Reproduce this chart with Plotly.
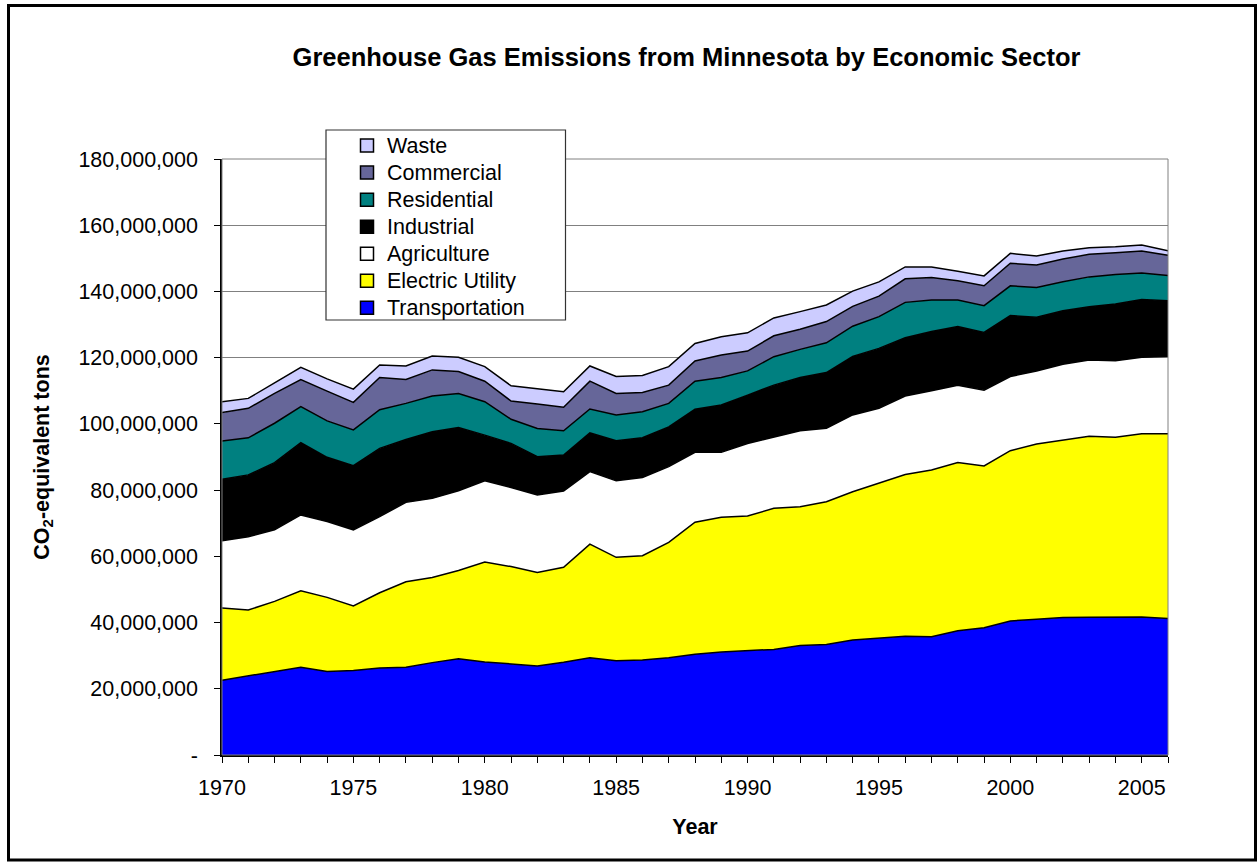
import plotly.graph_objects as go

years = list(range(1970, 2007))

# Sector emissions, million tons CO2-equivalent
transportation = [22.6, 23.9, 25.2, 26.5, 25.2, 25.5, 26.3, 26.5, 27.9, 29.1, 28.1, 27.6, 26.9,
                  28.0, 29.4, 28.5, 28.7, 29.4, 30.4, 31.1, 31.4, 31.9, 33.1, 33.4, 34.7, 35.2,
                  35.9, 35.7, 37.5, 38.4, 40.5, 41.0, 41.5, 41.6, 41.7, 41.7, 41.2]
electric_utility = [21.8, 19.9, 21.2, 23.1, 22.4, 19.5, 22.7, 25.8, 25.7, 26.6, 30.2, 29.3, 28.2,
                    28.7, 34.3, 31.2, 31.5, 34.8, 39.9, 40.7, 40.8, 42.6, 41.9, 43.1, 44.8, 46.8,
                    48.8, 50.4, 50.8, 48.9, 51.4, 52.9, 53.5, 54.7, 54.3, 55.3, 55.8]
agriculture = [20.3, 22.1, 21.6, 22.9, 22.9, 23.0, 23.0, 24.0, 23.9, 24.1, 24.5, 23.9, 23.4,
               23.0, 21.9, 23.1, 23.6, 22.9, 21.1, 19.6, 21.9, 21.6, 22.9, 22.2, 23.2, 22.7,
               23.7, 23.9, 23.4, 22.9, 22.4, 22.1, 23.0, 23.0, 23.1, 23.1, 23.3]
industrial = [18.6, 18.7, 20.3, 21.8, 19.4, 19.4, 20.6, 19.0, 20.1, 19.1, 13.8, 13.3, 11.6,
              10.9, 11.7, 12.1, 12.0, 12.0, 13.0, 14.3, 14.6, 15.6, 16.1, 16.8, 17.7, 18.1,
              17.6, 17.9, 17.7, 17.4, 18.4, 16.2, 16.2, 16.1, 17.1, 17.5, 16.9]
residential = [11.5, 11.2, 11.9, 10.9, 11.0, 10.8, 11.7, 10.9, 10.8, 10.3, 10.1, 7.3, 8.5,
               7.3, 7.2, 7.8, 7.9, 7.1, 8.5, 8.3, 7.3, 8.6, 8.5, 9.0, 9.1, 9.6,
               10.7, 9.5, 8.0, 8.1, 9.0, 9.0, 8.7, 9.0, 8.9, 8.0, 7.6]
commercial = [8.6, 8.9, 9.0, 8.2, 9.0, 8.3, 9.7, 7.2, 7.9, 6.6, 6.2, 5.5, 7.4,
              7.1, 8.4, 6.5, 5.8, 5.5, 6.1, 6.8, 6.0, 6.3, 6.1, 6.4, 6.0, 6.2,
              7.1, 6.8, 5.8, 6.0, 6.8, 6.8, 6.9, 6.8, 6.6, 6.6, 6.1]
waste = [3.3, 3.0, 3.2, 3.7, 3.7, 4.0, 3.8, 4.1, 4.2, 4.3, 4.4, 4.6, 4.6,
         4.7, 4.6, 5.1, 5.1, 5.6, 5.3, 5.5, 5.5, 5.4, 5.3, 5.0, 4.6, 4.3,
         3.6, 3.2, 2.9, 3.0, 3.0, 2.7, 2.4, 2.0, 1.8, 1.8, 1.4]

sector_names = ["Transportation", "Electric Utility", "Agriculture", "Industrial",
                "Residential", "Commercial", "Waste"]
sector_values = [transportation, electric_utility, agriculture, industrial,
                 residential, commercial, waste]
sector_colors = ["#0000FF", "#FFFF00", "#FFFFFF", "#000000", "#008080", "#666699", "#CCCCFF"]

y_tick_vals = [0, 20e6, 40e6, 60e6, 80e6, 100e6, 120e6, 140e6, 160e6, 180e6]
y_tick_text = ["-", "20,000,000", "40,000,000", "60,000,000", "80,000,000", "100,000,000",
               "120,000,000", "140,000,000", "160,000,000", "180,000,000"]
x_label_years = [1970, 1975, 1980, 1985, 1990, 1995, 2000, 2005]
x_tick_text = ["1970", "1975", "1980", "1985", "1990", "1995", "2000", "2005"]

FONT = "Liberation Sans, Arial, sans-serif"
TXT = 21.5

fig = go.Figure()
# stacked areas
for name, vals, col in zip(sector_names, sector_values, sector_colors):
    fig.add_trace(go.Scatter(
        x=years, y=[v * 1e6 for v in vals], name=name, mode="lines",
        stackgroup="one", line=dict(color="black", width=1.5),
        fillcolor=col, showlegend=False,
    ))
# legend entries with square swatches (Excel style)
for name, col in zip(sector_names, sector_colors):
    fig.add_trace(go.Scatter(
        x=[None], y=[None], mode="markers", showlegend=True,
        name=f'<span style="font-size:{TXT}px">{name}</span>',
        marker=dict(symbol="square", size=13, color=col, line=dict(color="black", width=1.5)),
    ))

W, H = 1259, 863
L, R, T, B = 222, 1168, 159, 755
pw, ph = R - L, B - T


def px(x):
    return (x - L) / pw


def py(y):
    return (B - y) / ph


fig.update_layout(
    width=W, height=H,
    margin=dict(l=L, r=W - R, t=T, b=H - B),
    paper_bgcolor="white", plot_bgcolor="white",
    font=dict(family=FONT, size=TXT, color="black"),
    title=dict(text="<b>Greenhouse Gas Emissions from Minnesota by Economic Sector</b>",
               x=px(686.5), xref="paper", xanchor="center",
               y=1 - 57 / H, yref="container", yanchor="middle",
               font=dict(family=FONT, size=25.5, color="black")),
    showlegend=True,
    legend=dict(traceorder="reversed", x=px(347), y=py(127), xanchor="left", yanchor="top",
                bgcolor="rgba(0,0,0,0)", borderwidth=0,
                font=dict(family=FONT, size=18.5, color="black"),
                itemwidth=30, tracegroupgap=0),
    xaxis=dict(range=[1970, 2006], tickvals=x_label_years, ticktext=x_tick_text,
               ticks="outside", ticklen=6, tickcolor="black", tickwidth=1,
               minor=dict(tickvals=years, ticks="outside", ticklen=6,
                          tickcolor="black", tickwidth=1, showgrid=False),
               showline=True, linecolor="black", linewidth=1.5,
               showgrid=False, zeroline=False,
               tickfont=dict(family=FONT, size=TXT),
               ticklabelstandoff=6,
               title=dict(text="<b>Year</b>", font=dict(family=FONT, size=TXT), standoff=20)),
    yaxis=dict(range=[0, 180e6], tickvals=y_tick_vals, ticktext=y_tick_text,
               ticks="outside", ticklen=6, tickcolor="black", tickwidth=1,
               showline=True, linecolor="black", linewidth=1.5,
               showgrid=True, gridcolor="#808080", gridwidth=1, zeroline=False,
               tickfont=dict(family=FONT, size=TXT),
               ticklabelstandoff=12,
               title=dict(text="<b>CO<sub>2</sub>-equivalent tons</b>",
                          font=dict(family=FONT, size=TXT), standoff=23)),
    shapes=[
        # plot area border (grey)
        dict(type="rect", xref="paper", yref="paper", x0=0, x1=1, y0=0, y1=1,
             line=dict(color="#808080", width=1), layer="above", fillcolor="rgba(0,0,0,0)"),
        # legend box
        dict(type="rect", xref="paper", yref="paper", x0=px(326), x1=px(565.5),
             y0=py(320), y1=py(130), line=dict(color="#333333", width=1.2),
             fillcolor="white", layer="above"),
        # outer chart border
        dict(type="rect", xref="paper", yref="paper", x0=px(8.5), x1=px(1255.5),
             y0=py(860), y1=py(5.5), line=dict(color="black", width=3),
             fillcolor="rgba(0,0,0,0)", layer="above"),
    ],
)

fig.write_html("out.html", config={"displayModeBar": False},
               post_script="document.body.style.margin='0';")
